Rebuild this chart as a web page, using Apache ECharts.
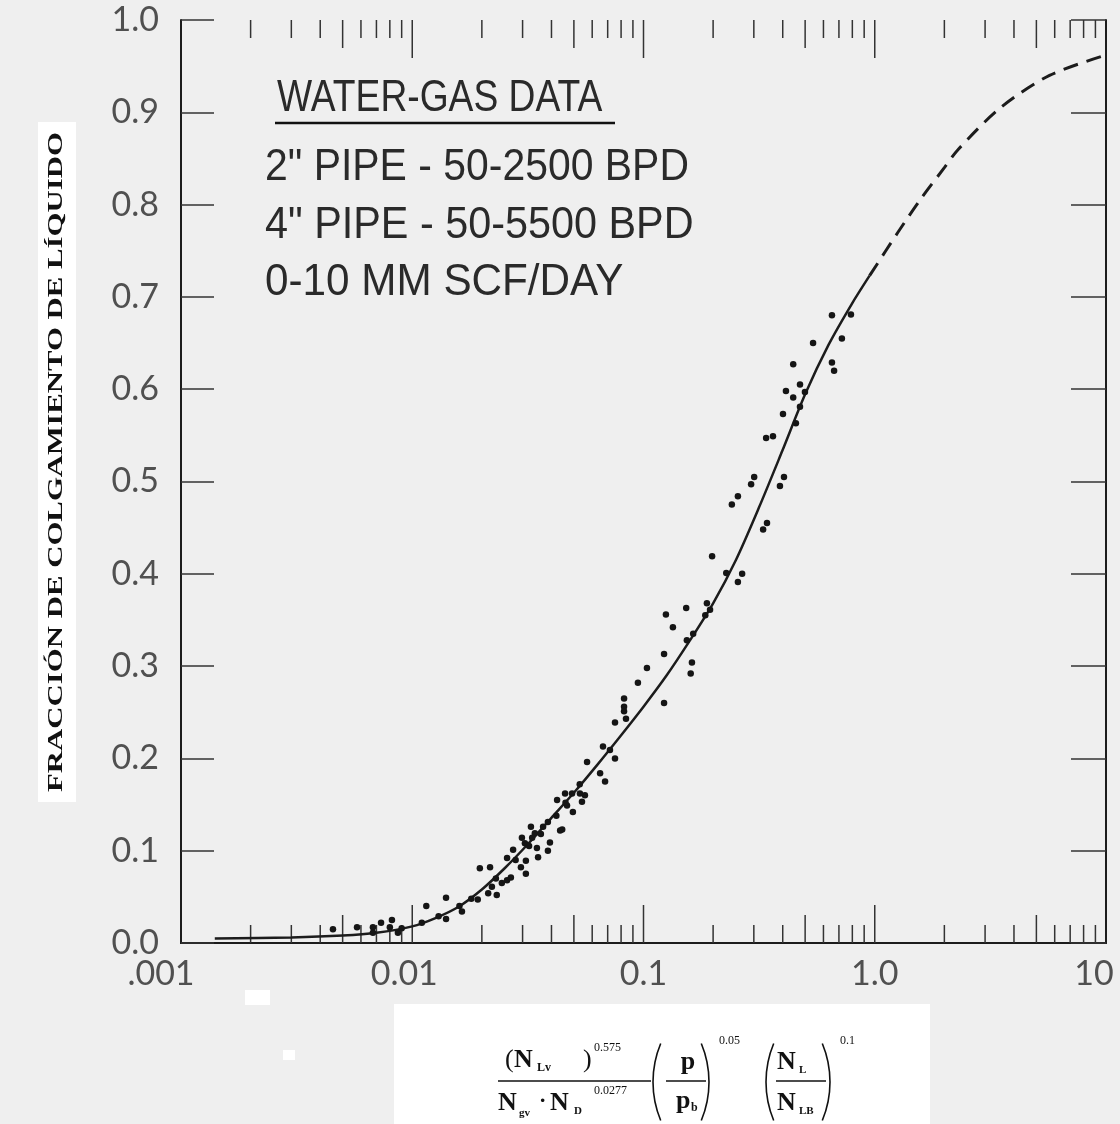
<!DOCTYPE html>
<html>
<head>
<meta charset="utf-8">
<script src="https://cdn.jsdelivr.net/npm/echarts@6/dist/echarts.min.js"></script>
<style>
  html, body { margin: 0; padding: 0; background: #efefef; }
  #chart { width: 1120px; height: 1124px; }
</style>
</head>
<body>
<div id="chart"></div>
<script>
// Correlation curve for liquid holdup (solid part, measured range)
const fitX = [0.0014, 0.003, 0.005, 0.007, 0.01, 0.0126, 0.0158, 0.02, 0.0251, 0.0316, 0.0398, 0.0501, 0.0631, 0.0794,
              0.1, 0.126, 0.158, 0.2, 0.251, 0.316, 0.398, 0.501, 0.631, 0.794, 0.95];
const fitY = [0.005, 0.006, 0.008, 0.011, 0.018, 0.027, 0.039, 0.058, 0.081, 0.107, 0.135, 0.163, 0.193, 0.224,
              0.256, 0.29, 0.327, 0.368, 0.415, 0.472, 0.533, 0.595, 0.648, 0.692, 0.723];
// Extrapolated part of the curve (dashed)
const extX = [0.95, 1.26, 1.58, 2.0, 2.3, 3.5, 5.7, 10];
const extY = [0.723, 0.77, 0.806, 0.84, 0.86, 0.905, 0.94, 0.962];

// Water-gas test points
const ptX = [0.00454, 0.00577, 0.00676, 0.00676, 0.00733, 0.00817, 0.0080, 0.00867, 0.0115, 0.0140,
             0.0140, 0.0164, 0.0196, 0.0217, 0.0192, 0.0213, 0.0232, 0.0221, 0.0257, 0.0273,
             0.0244, 0.0257, 0.0267, 0.0295, 0.0310, 0.0310, 0.0298, 0.0326, 0.0346, 0.0350,
             0.0386, 0.0394, 0.0368, 0.0445, 0.0339, 0.0330, 0.0423, 0.0458, 0.0495, 0.0542,
             0.0558, 0.0491, 0.0467, 0.0307, 0.0436, 0.0386, 0.0531, 0.0570, 0.0668, 0.0753,
             0.0716, 0.0649, 0.0682, 0.0824, 0.0824, 0.0824, 0.0753, 0.0840, 0.0946, 0.1035,
             0.1227, 0.1227, 0.162, 0.160, 0.125, 0.153, 0.134, 0.188, 0.185, 0.194,
             0.164, 0.154, 0.198, 0.228, 0.267, 0.256, 0.342, 0.329, 0.241, 0.256,
             0.292, 0.301, 0.405, 0.389, 0.339, 0.363, 0.401, 0.456, 0.413, 0.444,
             0.475, 0.499, 0.475, 0.444, 0.541, 0.653, 0.667, 0.721, 0.653, 0.789,
             0.009, 0.011, 0.013, 0.016, 0.018, 0.023, 0.028, 0.032, 0.036, 0.042,
             0.046, 0.053];
const ptY = [0.015, 0.017, 0.017, 0.011, 0.022, 0.025, 0.017, 0.011, 0.040, 0.049,
             0.026, 0.034, 0.081, 0.082, 0.047, 0.054, 0.052, 0.061, 0.092, 0.101,
             0.065, 0.068, 0.071, 0.082, 0.089, 0.075, 0.114, 0.126, 0.103, 0.093,
             0.100, 0.109, 0.126, 0.123, 0.119, 0.114, 0.155, 0.162, 0.142, 0.153,
             0.160, 0.162, 0.149, 0.108, 0.122, 0.131, 0.162, 0.196, 0.213, 0.200,
             0.209, 0.184, 0.175, 0.265, 0.256, 0.251, 0.239, 0.243, 0.282, 0.298,
             0.313, 0.260, 0.304, 0.292, 0.356, 0.363, 0.342, 0.368, 0.355, 0.361,
             0.335, 0.328, 0.419, 0.401, 0.400, 0.391, 0.455, 0.448, 0.475, 0.484,
             0.497, 0.505, 0.505, 0.495, 0.547, 0.549, 0.573, 0.563, 0.598, 0.591,
             0.605, 0.597, 0.581, 0.627, 0.650, 0.629, 0.620, 0.655, 0.680, 0.681,
             0.016, 0.022, 0.029, 0.040, 0.048, 0.070, 0.090, 0.105, 0.118, 0.138,
             0.152, 0.172];

// Axis labelling
const xTickValues = [0.001, 0.01, 0.1, 1, 10];
const xTickLabels = ['.001', '0.01', '0.1', '1.0', '10'];
const xLabelShift = [-20, -8, 0, 0, -12];
const tickDecades = [0.001, 0.01, 0.1, 1];
const tickMultipliers = [1, 2, 3, 4, 5, 6, 7, 8, 9];

const noteLines = ['WATER-GAS DATA', '2" PIPE - 50-2500 BPD', '4" PIPE - 50-5500 BPD', '0-10 MM SCF/DAY'];
const yTitle = 'FRACCIÓN DE COLGAMIENTO DE LÍQUIDO';

// every log tick inside the frame (the 0.001 one sits on the frame itself)
const logTicks = [];
tickDecades.forEach(d => tickMultipliers.forEach(m => {
  const v = +(d * m).toPrecision(3);
  if (v > 0.001) logTicks.push(v);
}));

const ink = '#1c1c1c';
const labelFont = { fontFamily: 'Lato, "Open Sans", sans-serif', fontSize: 34, color: '#505050' };

const xRich = {};
xLabelShift.forEach((s, i) => {
  xRich['l' + i] = { fontFamily: labelFont.fontFamily, fontSize: labelFont.fontSize, color: labelFont.color,
                     padding: s < 0 ? [0, -2 * s, 0, 0] : [0, 0, 0, 2 * s] };
});
function xLabel(v) {
  let best = 0, bestD = Infinity;
  xTickValues.forEach((tv, i) => {
    const d = Math.abs(Math.log10(v) - Math.log10(tv));
    if (d < bestD) { bestD = d; best = i; }
  });
  return '{l' + best + '|' + xTickLabels[best] + '}';
}

const serif = '"Liberation Serif", "Times New Roman", serif';
function t(text, x, y, size, opts) {
  opts = opts || {};
  return {
    type: 'text', x: x, y: y, silent: true,
    scaleX: opts.scaleX || 1, scaleY: opts.scaleY || 1, rotation: opts.rotation || 0,
    style: {
      text: text,
      font: (opts.bold ? 'bold ' : '') + size + 'px ' + (opts.family || serif),
      fill: opts.fill || '#111',
      align: opts.align || 'left', textAlign: opts.align || 'left',
      verticalAlign: 'middle', textVerticalAlign: 'middle'
    }
  };
}
function hline(x1, x2, y, w) {
  return { type: 'line', silent: true, shape: { x1: x1, y1: y, x2: x2, y2: y }, style: { stroke: '#111', lineWidth: w || 1.5 } };
}
// tall bracket drawn as a shallow arc; side = -1 for "(", +1 for ")"
function paren(xEdge, cy, side) {
  const r = 100, half = 0.395;
  const cx = side < 0 ? xEdge + r : xEdge - r;
  const mid = side < 0 ? Math.PI : 0;
  return { type: 'arc', silent: true, shape: { cx: cx, cy: cy, r: r, startAngle: mid - half, endAngle: mid + half, clockwise: true },
           style: { stroke: '#111', lineWidth: 1.6, fill: null } };
}

const noteFamily = '"Liberation Sans", Arial, sans-serif';
const fy = -4; // vertical offset of the x-axis formula block
const graphics = [
  // white patches behind the axis titles
  { type: 'rect', silent: true, shape: { x: 38, y: 122, width: 38, height: 680 }, style: { fill: '#fff' } },
  { type: 'rect', silent: true, shape: { x: 394, y: 1004, width: 536, height: 120 }, style: { fill: '#fff' } },
  { type: 'rect', silent: true, shape: { x: 245, y: 990, width: 25, height: 15 }, style: { fill: '#fff' } },
  { type: 'rect', silent: true, shape: { x: 283, y: 1050, width: 12, height: 10 }, style: { fill: '#fff' } },

  // y-axis title
  t(yTitle, 56, 462, 22, { rotation: Math.PI / 2, scaleX: 1.4, align: 'center', bold: true, fill: '#111' }),

  // data description block
  t(noteLines[0], 277, 99, 44, { family: noteFamily, scaleX: 0.846, fill: '#2a2a2a' }),
  hline(275, 615, 123, 2.5),
  t(noteLines[1], 265, 168, 44, { family: noteFamily, scaleX: 0.93, fill: '#2a2a2a' }),
  t(noteLines[2], 265, 226, 44, { family: noteFamily, scaleX: 0.94, fill: '#2a2a2a' }),
  t(noteLines[3], 265, 283, 44, { family: noteFamily, scaleX: 0.96, fill: '#2a2a2a' }),

  // x-axis group: (N_Lv)^0.575 / (N_gv · N_D^0.0277) · (p/p_b)^0.05 · (N_L/N_LB)^0.1
  t('(', 505, 1064 + fy, 26),
  t('N', 514, 1064 + fy, 26, { bold: true }),
  t('Lv', 537, 1072 + fy, 12, { bold: true }),
  t(')', 583, 1064 + fy, 26),
  t('0.575', 594, 1052 + fy, 12),
  hline(498, 651, 1085 + fy),
  t('N', 498, 1107 + fy, 26, { bold: true }),
  t('gv', 519, 1117 + fy, 11, { bold: true }),
  t('·', 539, 1105 + fy, 22, { bold: true }),
  t('N', 550, 1107 + fy, 26, { bold: true }),
  t('D', 574, 1115 + fy, 11, { bold: true }),
  t('0.0277', 594, 1095 + fy, 12),

  paren(653, 1086 + fy, -1),
  t('p', 688, 1066 + fy, 26, { bold: true, align: 'center' }),
  hline(666, 706, 1085 + fy),
  t('p', 676, 1105 + fy, 26, { bold: true }),
  t('b', 691, 1112 + fy, 12, { bold: true }),
  paren(709, 1086 + fy, 1),
  t('0.05', 719, 1045 + fy, 12),

  paren(766, 1086 + fy, -1),
  t('N', 777, 1066 + fy, 26, { bold: true }),
  t('L', 799, 1074 + fy, 11, { bold: true }),
  hline(776, 826, 1085 + fy),
  t('N', 777, 1107 + fy, 26, { bold: true }),
  t('LB', 799, 1115 + fy, 11, { bold: true }),
  paren(830, 1086 + fy, 1),
  t('0.1', 840, 1045 + fy, 12)
];

const chart = echarts.init(document.getElementById('chart'), null, { renderer: 'canvas' });
chart.setOption({
  backgroundColor: '#efefef',
  animation: false,
  grid: { left: 181, right: 14, top: 20, bottom: 181, containLabel: false },
  xAxis: [
    {
      type: 'log', logBase: 10, min: 0.001, max: 10, splitNumber: 4, position: 'bottom',
      axisLine: { lineStyle: { color: ink, width: 2 } },
      axisTick: { show: false },
      axisLabel: { margin: 14, formatter: xLabel, rich: xRich },
      splitLine: { show: false }
    },
    {
      type: 'log', logBase: 10, min: 0.001, max: 10, splitNumber: 4, position: 'top',
      axisLine: { lineStyle: { color: ink, width: 2 } },
      axisTick: { show: false },
      axisLabel: { show: false },
      splitLine: { show: false }
    }
  ],
  yAxis: [
    {
      type: 'value', min: 0, max: 1, interval: 0.1, position: 'left',
      axisLine: { show: true, lineStyle: { color: ink, width: 2 } },
      axisTick: { inside: true, length: 33, lineStyle: { color: '#333', width: 1.6 } },
      axisLabel: Object.assign({ margin: 22, formatter: v => v.toFixed(1) }, labelFont),
      splitLine: { show: false }
    },
    {
      type: 'value', min: 0, max: 1, interval: 0.1, position: 'right',
      axisLine: { show: true, lineStyle: { color: ink, width: 2 } },
      axisTick: { inside: true, length: 35, lineStyle: { color: '#333', width: 1.6 } },
      axisLabel: { show: false },
      splitLine: { show: false }
    }
  ],
  series: [
    {
      // log ticks along the bottom and top edges: decades long, fives medium, others short
      type: 'custom', silent: true, clip: false,
      data: logTicks.map(v => [v, 0]),
      encode: { x: 0, y: 1 },
      renderItem: function (params, api) {
        const v = api.value(0);
        const b = api.coord([v, 0]);
        const tp = api.coord([v, 1]);
        const mant = Math.round(v / Math.pow(10, Math.floor(Math.log10(v) + 1e-9)));
        const len = mant === 1 ? 38 : (mant === 5 ? 28 : 18);
        const st = { stroke: '#333', lineWidth: 1.5 };
        return {
          type: 'group', children: [
            { type: 'line', shape: { x1: b[0], y1: b[1], x2: b[0], y2: b[1] - len }, style: st },
            { type: 'line', shape: { x1: tp[0], y1: tp[1], x2: tp[0], y2: tp[1] + len }, style: st }
          ]
        };
      }
    },
    {
      type: 'line', data: fitX.map((x, i) => [x, fitY[i]]), smooth: 0.3,
      showSymbol: false, lineStyle: { color: ink, width: 2.5 }, z: 3
    },
    {
      type: 'line', data: extX.map((x, i) => [x, extY[i]]), smooth: 0.3,
      showSymbol: false, lineStyle: { color: ink, width: 3, type: [15, 9] }, z: 3
    },
    {
      type: 'scatter', data: ptX.map((x, i) => [x, ptY[i]]),
      symbol: 'circle', symbolSize: 6.5, itemStyle: { color: '#151515', opacity: 1 }, z: 4
    }
  ],
  graphic: graphics
});
</script>
</body>
</html>
